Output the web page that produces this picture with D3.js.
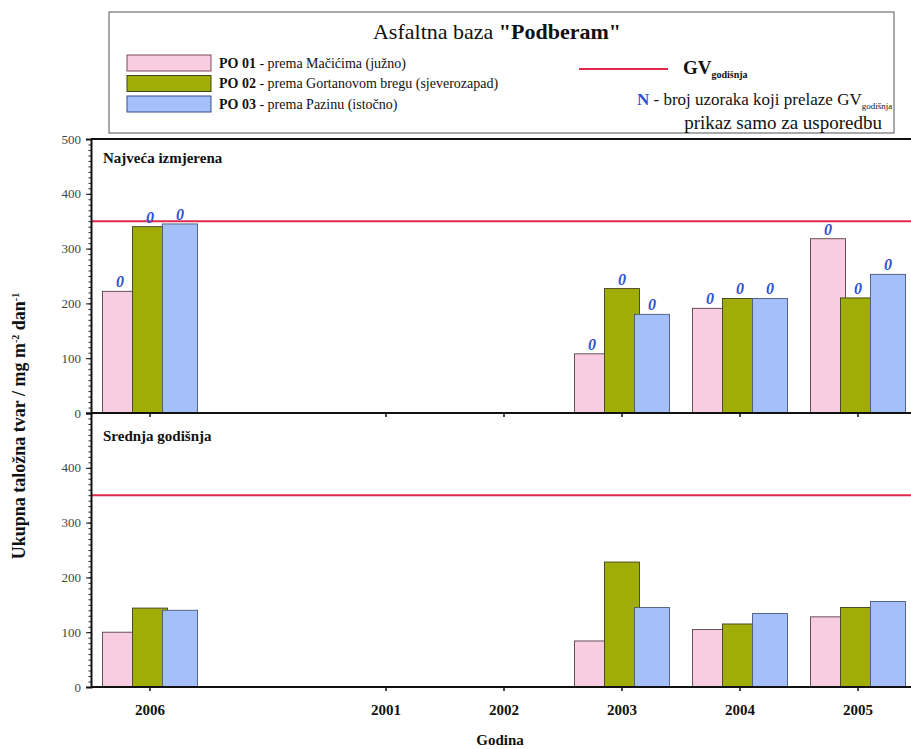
<!DOCTYPE html>
<html>
<head>
<meta charset="utf-8">
<script src="https://cdn.jsdelivr.net/npm/d3@7"></script>
<style>
  html, body { margin: 0; padding: 0; background: #fff; }
  svg { display: block; }
</style>
</head>
<body>
<svg id="chart" width="911" height="749" font-family="Liberation Serif, serif"></svg>
<script>
// ---------- data ----------
const categories = ["2006", "", "2001", "2002", "2003", "2004", "2005"];
const seriesNames = ["PO 01", "PO 02", "PO 03"];
const seriesDesc = [" - prema Mačićima (južno)", " - prema Gortanovom bregu (sjeverozapad)", " - prema Pazinu (istočno)"];
const seriesColors = ["#f9cde1", "#a0ad06", "#a5bffa"];
const seriesStroke = ["#5a4048", "#3c4020", "#4a5a7c"];

// Najveća izmjerena (max measured)
const maxPO01 = [222, null, null, null, 108, 191, 318];
const maxPO02 = [340, null, null, null, 227, 209, 210];
const maxPO03 = [345, null, null, null, 180, 209, 253];
// N - number of samples above GV
const nPO01 = [0, null, null, null, 0, 0, 0];
const nPO02 = [0, null, null, null, 0, 0, 0];
const nPO03 = [0, null, null, null, 0, 0, 0];
// Srednja godišnja (annual mean)
const meanPO01 = [100, null, null, null, 84, 105, 128];
const meanPO02 = [144, null, null, null, 228, 115, 145];
const meanPO03 = [140, null, null, null, 145, 134, 156];

const gvAnnual = 350;
const yTicksTop = [0, 100, 200, 300, 400, 500];
const yTicksBottom = [0, 100, 200, 300, 400];
const minorTicks = d3.range(0, 501, 10);

// ---------- layout ----------
const FONT = "Liberation Serif, serif";
const svg = d3.select("#chart");
const plotLeft = 91, plotRight = 917;
const topY0 = 413, topY1 = 139, botY0 = 687, botY1 = 413;

const x = d3.scaleBand().domain(categories.map((c, i) => i)).range([plotLeft, plotRight]).paddingInner(0).paddingOuter(0);
const xOff = d3.scalePoint().domain([0, 1, 2]).range([-30, 30]);
const barW = 35;
const yTop = d3.scaleLinear().domain([0, 500]).range([topY0, topY1]);
const yBot = d3.scaleLinear().domain([0, 500]).range([botY0, botY1]);

function drawPanel(y, seriesVals, counts, ticks, label, labelY) {
  const g = svg.append("g");
  seriesVals.forEach((vals, s) => {
    g.append("g").selectAll("rect")
      .data(vals.map((v, i) => ({ v, i })).filter(d => d.v != null))
      .join("rect")
      .attr("x", d => x(d.i) + x.bandwidth() / 2 + xOff(s) - barW / 2)
      .attr("y", d => y(d.v))
      .attr("width", barW)
      .attr("height", d => y(0) - y(d.v))
      .attr("fill", seriesColors[s])
      .attr("stroke", seriesStroke[s])
      .attr("stroke-width", 0.9);
  });
  g.append("line")
    .attr("x1", plotLeft).attr("x2", 911)
    .attr("y1", y(gvAnnual)).attr("y2", y(gvAnnual))
    .attr("stroke", "#e0284a").attr("stroke-width", 2);
  if (counts) {
    counts.forEach((vals, s) => {
      g.append("g").selectAll("text")
        .data(vals.map((v, i) => ({ v, i, h: seriesVals[s][i] })).filter(d => d.v != null))
        .join("text")
        .attr("x", d => x(d.i) + x.bandwidth() / 2 + xOff(s))
        .attr("y", d => y(d.h) - 4)
        .attr("text-anchor", "middle")
        .attr("font-family", FONT)
        .attr("font-size", 16).attr("font-weight", "bold").attr("font-style", "italic")
        .attr("fill", "#2f50d4")
        .text(d => d.v);
    });
  }
  const minor = g.append("g").attr("transform", `translate(${plotLeft},0)`)
    .call(d3.axisLeft(y).tickValues(minorTicks).tickSize(2.5).tickFormat(""));
  minor.select(".domain").remove();
  minor.selectAll("line").attr("stroke", "#222");
  const ax = g.append("g").attr("transform", `translate(${plotLeft},0)`)
    .call(d3.axisLeft(y).tickValues(ticks).tickSize(5).tickPadding(5).tickFormat(d3.format("d")));
  ax.attr("font-family", FONT);
  ax.select(".domain").attr("stroke", "#111").attr("stroke-width", 2);
  ax.selectAll("line").attr("stroke", "#111");
  ax.selectAll("text").attr("font-size", 13).attr("fill", "#444");
  const xa = g.append("g").attr("transform", `translate(0,${y(0)})`)
    .call(d3.axisBottom(x).tickSize(4).tickFormat(""));
  xa.select(".domain").attr("d", `M${plotLeft},0H911`).attr("stroke", "#111").attr("stroke-width", 2.2);
  xa.selectAll(".tick").filter(d => categories[d] === "").remove();
  xa.selectAll("line").attr("stroke", "#111").attr("stroke-width", 1.5);
  g.append("text").attr("x", plotLeft + 12).attr("y", labelY)
    .attr("font-family", FONT)
    .attr("font-size", 15).attr("font-weight", "bold").attr("fill", "#111")
    .text(label);
  return g;
}

drawPanel(yTop, [maxPO01, maxPO02, maxPO03], [nPO01, nPO02, nPO03], yTicksTop, "Najveća izmjerena", 163);
drawPanel(yBot, [meanPO01, meanPO02, meanPO03], null, yTicksBottom, "Srednja godišnja", 441);

svg.append("line").attr("x1", plotLeft).attr("x2", 911).attr("y1", topY1).attr("y2", topY1)
  .attr("stroke", "#111").attr("stroke-width", 2);

svg.append("g").selectAll("text")
  .data(categories.map((c, i) => ({ c, i })).filter(d => d.c !== ""))
  .join("text")
  .attr("x", d => x(d.i) + x.bandwidth() / 2)
  .attr("y", 715)
  .attr("text-anchor", "middle")
  .attr("font-family", FONT)
  .attr("font-size", 15).attr("font-weight", "bold").attr("fill", "#111")
  .text(d => d.c);

svg.append("text").attr("x", 500).attr("y", 745).attr("text-anchor", "middle")
  .attr("font-family", FONT)
  .attr("font-size", 15).attr("font-weight", "bold").attr("fill", "#111").text("Godina");

const yt = svg.append("text").attr("transform", "translate(25,426) rotate(-90)")
  .attr("font-family", FONT)
  .attr("text-anchor", "middle").attr("font-size", 18).attr("font-weight", "bold").attr("fill", "#111");
yt.append("tspan").text("Ukupna taložna tvar / mg m");
yt.append("tspan").attr("dy", -6).attr("font-size", 10).text("-2");
yt.append("tspan").attr("dy", 6).text(" dan");
yt.append("tspan").attr("dy", -6).attr("font-size", 10).text("-1");

// ---------- legend ----------
const lg = svg.append("g").attr("font-family", FONT);
lg.append("rect").attr("x", 109).attr("y", 12).attr("width", 785).attr("height", 121)
  .attr("fill", "#fff").attr("stroke", "#555").attr("stroke-width", 1);
const title = lg.append("text").attr("x", 497).attr("y", 39).attr("text-anchor", "middle")
  .attr("font-size", 22).attr("fill", "#111");
title.append("tspan").text("Asfaltna baza ");
title.append("tspan").attr("font-weight", "bold").text("\"Podberam\"");

const legendSwatchStroke = ["#7a4a5a", "#40441a", "#3a4e88"];
seriesNames.forEach((name, s) => {
  const yy = 55 + s * 20.5;
  lg.append("rect").attr("x", 127).attr("y", yy).attr("width", 84).attr("height", 16)
    .attr("fill", seriesColors[s]).attr("stroke", legendSwatchStroke[s]).attr("stroke-width", 1);
  const t = lg.append("text").attr("x", 219).attr("y", yy + 12.5).attr("font-size", 14).attr("fill", "#111");
  t.append("tspan").attr("font-weight", "bold").text(name);
  t.append("tspan").text(seriesDesc[s]);
});

lg.append("line").attr("x1", 579).attr("x2", 668).attr("y1", 69).attr("y2", 69)
  .attr("stroke", "#e0284a").attr("stroke-width", 2);
const gv = lg.append("text").attr("x", 683).attr("y", 74).attr("font-size", 19).attr("font-weight", "bold").attr("fill", "#111");
gv.append("tspan").text("GV");
gv.append("tspan").attr("dy", 4).attr("font-size", 10).text("godišnja");

const nt = lg.append("text").attr("x", 637).attr("y", 105).attr("font-size", 17).attr("fill", "#111");
nt.append("tspan").attr("fill", "#2f50d4").attr("font-weight", "bold").text("N");
nt.append("tspan").text(" - broj uzoraka koji prelaze GV");
nt.append("tspan").attr("dy", 4).attr("font-size", 9).text("godišnja");
lg.append("text").attr("x", 882).attr("y", 129).attr("text-anchor", "end").attr("font-size", 19)
  .attr("fill", "#111").text("prikaz samo za usporedbu");
</script>
</body>
</html>
